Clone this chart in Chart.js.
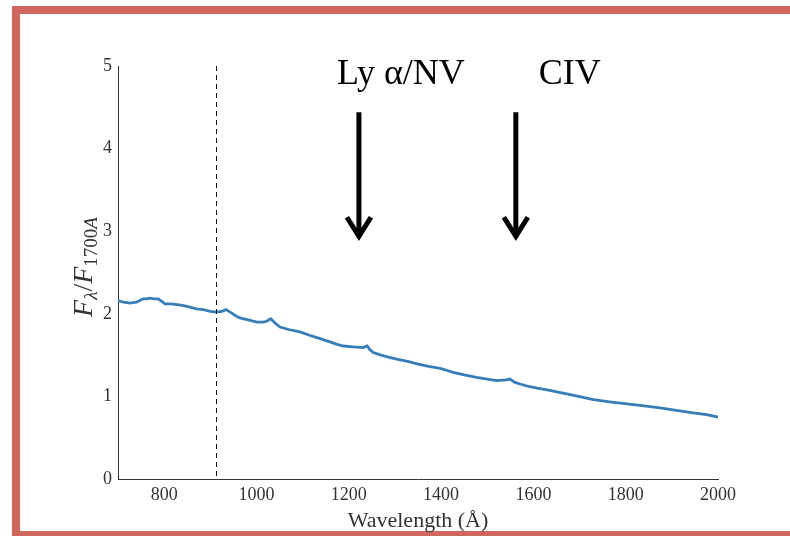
<!DOCTYPE html>
<html><head><meta charset="utf-8">
<script src="https://cdn.jsdelivr.net/npm/chart.js@4/dist/chart.umd.min.js"></script>
<style>html,body{margin:0;padding:0;background:#fff;} canvas{display:block}</style>
</head><body>
<canvas id="c" width="790" height="536"></canvas>
<script>
// ---- data ----
const wavelength = [700,712,726,740,754,762,769,778,787,795,802,815,828,842,856,870,885,900,912,925,934,943,954,964,980,1001,1015,1022,1031,1040,1051,1070,1094,1115,1138,1159,1175,1188,1210,1231,1240,1245,1253,1270,1290,1304,1330,1350,1376,1398,1410,1426,1450,1477,1500,1521,1540,1549,1560,1571,1590,1608,1630,1664,1698,1730,1765,1803,1840,1874,1910,1946,1975,2000];
const flux = [2.16,2.14,2.13,2.14,2.18,2.18,2.19,2.18,2.18,2.15,2.12,2.12,2.11,2.10,2.08,2.06,2.05,2.03,2.02,2.03,2.05,2.02,1.98,1.95,1.93,1.90,1.90,1.91,1.94,1.89,1.84,1.81,1.78,1.74,1.70,1.66,1.63,1.61,1.60,1.59,1.61,1.57,1.53,1.50,1.47,1.45,1.42,1.39,1.36,1.34,1.32,1.29,1.26,1.23,1.21,1.19,1.20,1.21,1.17,1.15,1.12,1.10,1.08,1.04,1.00,0.96,0.935,0.91,0.885,0.86,0.83,0.80,0.78,0.75];
const xTicks = [800,1000,1200,1400,1600,1800,2000];
const yTicks = [0,1,2,3,4,5];
const lymanLimit = 912;
const lineLabels = ["Ly \u03b1/NV","CIV"];
const arrowX = [1222,1562];
const labelX = [1313,1679];
const labelY = [4.78,4.78];
const arrowTop = [4.44,4.44];
const arrowTip = [2.89,2.89];

const SERIF = '"Liberation Serif", "DejaVu Serif", serif';

const decor = {
  id:'decor',
  beforeDraw(chart){
    const ctx = chart.ctx;
    ctx.save();
    ctx.fillStyle = '#cf6660';
    ctx.fillRect(12,6,778,8);
    ctx.fillRect(12,6,8,530);
    ctx.fillRect(12,531,778,5);
    ctx.restore();
  },
  afterDraw(chart){
    const ctx = chart.ctx, xs = chart.scales.x, ys = chart.scales.y, a = chart.chartArea;
    ctx.save();
    // dashed Lyman limit line
    const lx = Math.round(xs.getPixelForValue(lymanLimit)) + 0.5;
    ctx.strokeStyle = '#111'; ctx.lineWidth = 1; ctx.setLineDash([5,4]);
    ctx.beginPath(); ctx.moveTo(lx, a.top); ctx.lineTo(lx, a.bottom); ctx.stroke();
    ctx.setLineDash([]);
    // arrows + labels
    ctx.strokeStyle = '#000'; ctx.fillStyle = '#000';
    for (let i=0;i<lineLabels.length;i++){
      const x = xs.getPixelForValue(arrowX[i]);
      const yt = ys.getPixelForValue(arrowTop[i]);
      const yb = ys.getPixelForValue(arrowTip[i]);
      ctx.lineWidth = 5; ctx.lineCap = 'butt'; ctx.lineJoin = 'miter';
      ctx.beginPath(); ctx.moveTo(x, yt); ctx.lineTo(x, yb-3); ctx.stroke();
      ctx.beginPath(); ctx.moveTo(x-12, yb-23); ctx.lineTo(x, yb-4); ctx.lineTo(x+12, yb-23); ctx.stroke();
      ctx.font = '36px ' + SERIF; ctx.textAlign = 'center'; ctx.textBaseline = 'alphabetic';
      ctx.fillText(lineLabels[i], xs.getPixelForValue(labelX[i]), ys.getPixelForValue(labelY[i]));
    }
    // x title
    ctx.fillStyle = '#333';
    ctx.font = '22px ' + SERIF; ctx.textAlign = 'center'; ctx.textBaseline = 'alphabetic';
    ctx.fillText('Wavelength (\u00c5)', (a.left+a.right)/2, 527);
    // y title (rotated, with subscripts)
    const parts = [
      {t:'F', f:'italic 28px '+SERIF, dy:0},
      {t:'\u03bb', f:'italic 19px '+SERIF, dy:5},
      {t:'/', f:'28px '+SERIF, dy:0},
      {t:'F', f:'italic 28px '+SERIF, dy:0},
      {t:'1700', f:'19px '+SERIF, dy:5},
      {t:'A', f:'italic 19px '+SERIF, dy:5}
    ];
    let total = 0;
    parts.forEach(p=>{ctx.font=p.f; p.w = ctx.measureText(p.t).width; total += p.w;});
    ctx.translate(92, 267); ctx.rotate(-Math.PI/2);
    let cx = -total/2;
    ctx.textAlign = 'left';
    parts.forEach(p=>{ctx.font=p.f; ctx.fillText(p.t, cx, p.dy); cx += p.w;});
    ctx.restore();
  }
};

new Chart(document.getElementById('c'), {
  type:'line',
  data:{ datasets:[{
    data: wavelength.map((w,i)=>({x:w, y:flux[i]})),
    borderColor:'#377eb8', borderWidth:2.8, pointRadius:0, tension:0, fill:false
  }]},
  options:{
    responsive:false, animation:false, devicePixelRatio:1,
    layout:{padding:{left:20, right:72, top:66, bottom:0}},
    plugins:{legend:{display:false}, tooltip:{enabled:false}},
    scales:{
      x:{type:'linear', min:700, max:2000,
        afterBuildTicks:s=>{s.ticks = xTicks.map(v=>({value:v}));},
        afterFit:s=>{s.height = 57;},
        grid:{display:false, drawTicks:false},
        border:{display:true, color:'#333', width:1},
        ticks:{padding:5, color:'#333', font:{family:SERIF, size:18}, maxRotation:0, callback:v=>String(v)}
      },
      y:{type:'linear', min:0, max:5,
        afterBuildTicks:s=>{s.ticks = yTicks.map(v=>({value:v}));},
        afterFit:s=>{s.width = 98;},
        grid:{display:false, drawTicks:false},
        border:{display:true, color:'#333', width:1},
        ticks:{padding:6, color:'#333', font:{family:SERIF, size:18}, callback:v=>String(v)}
      }
    }
  },
  plugins:[decor]
});
</script>
</body></html>
